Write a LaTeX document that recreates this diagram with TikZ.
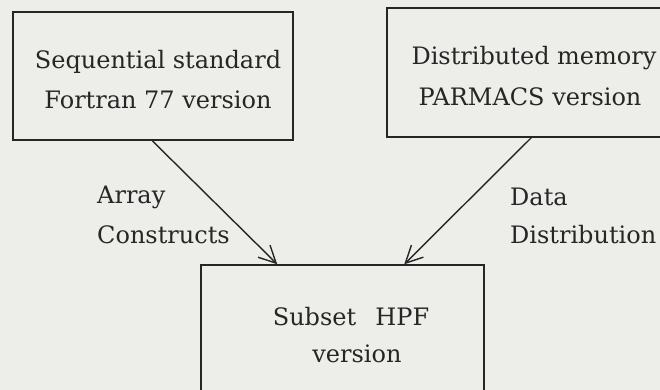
\documentclass[tikz,border=0pt]{standalone}
\usepackage{fontspec}
\setmainfont{DejaVu Serif}
\usetikzlibrary{arrows.meta,calc}
\definecolor{paper}{HTML}{EDEDE9}
\definecolor{ink}{HTML}{262626}
\tikzset{
  box/.style={draw=ink,line width=1.5pt,inner sep=0pt},
  txt/.style={text=ink,font=\fontsize{24}{28}\selectfont,inner sep=0pt,anchor=center},
  lbl/.style={text=ink,font=\fontsize{24}{28}\selectfont,inner sep=0pt,anchor=west},
  conn/.style={draw=ink,line width=1.4pt,-{Straight Barb[length=17pt,width=17pt,line width=1.4pt]}}
}
\begin{document}
\begin{tikzpicture}[x=1pt,y=-1pt]
\fill[paper] (0,0) rectangle (660,390);
\useasboundingbox (0,0) rectangle (660,390);
\begin{scope}
\clip (0,0) rectangle (660,390);
\node[box,minimum width=280pt,minimum height=128pt] (A) at (153,76) {};
\node[box,minimum width=276pt,minimum height=129pt] (B) at (525,72.5) {};
\node[box,minimum width=283pt,minimum height=140pt] (C) at (342.5,335) {};
\end{scope}
\node[txt] (a1) at (158,62) {Sequential standard};
\node[txt] (a2) at (158,100) {Fortran 77 version};
\node[txt] (b1) at (534,58) {Distributed memory};
\node[txt] (b2) at (530,97) {PARMACS version};
\node[txt] (c1) at (351,317) {Subset\hspace{0.8em}HPF};
\node[txt] (c2) at (357,354) {version};
\node[lbl] (l1) at (97,197) {Array};
\node[lbl] (l2) at (97,235) {Constructs};
\node[lbl] (l3) at (510,197) {Data};
\node[lbl] (l4) at (510,235) {Distribution};
\coordinate (s1) at ($(A.south west)+(140,0)$);
\coordinate (e1) at ($(C.north west)+(77,0)$);
\coordinate (s2) at ($(B.south west)+(145,0)$);
\coordinate (e2) at ($(C.north west)+(204,0)$);
\draw[conn] (s1) -- (e1);
\draw[conn] (s2) -- (e2);
\end{tikzpicture}
\end{document}
